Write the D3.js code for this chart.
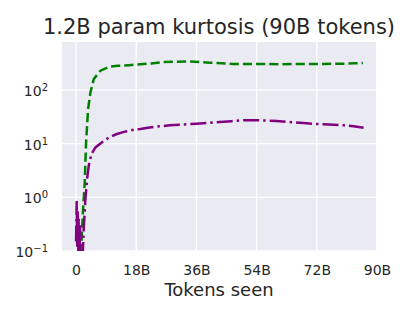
<!DOCTYPE html>
<html>
<head>
<meta charset="utf-8">
<script src="https://cdn.jsdelivr.net/npm/d3@7"></script>
<style>
  body { margin: 0; background: #ffffff; }
  svg text { font-family: "DejaVu Sans", sans-serif; fill: #262626; }
</style>
</head>
<body>
<div id="chart"></div>
<script>
// Chart values (x in billions of tokens)
var title = '1.2B param kurtosis (90B tokens)';
var xLabel = 'Tokens seen';
var xTicks = [0, 18, 36, 54, 72, 90];
var xTickLabels = ['0', '18B', '36B', '54B', '72B', '90B'];
var yTicks = [0.1, 1, 10, 100];
var yExponents = ['\u22121', '0', '1', '2'];

var greenX = [1.0, 1.5, 2.1, 2.6, 3.0, 3.6, 4.3, 5.3, 7.3, 9.8, 12.5, 15.8, 19.2, 22.5, 26, 29.5, 33.5, 37, 40, 43.5, 47, 50.5, 54, 57.5, 61, 64.5, 68, 71, 74, 77.5, 81, 83.5, 85.8];
var greenY = [0.05, 0.1, 0.6, 1.9, 10.5, 44, 90, 160, 229, 270, 282, 290, 300, 312, 330, 335, 340, 332, 322, 314, 306, 305, 306, 304, 302, 304, 306, 304, 306, 308, 310, 314, 318];

var purpleX = [0.0, 0.2, 0.35, 0.5, 0.65, 0.8, 1.0, 1.2, 1.5, 1.9, 2.3, 2.8, 3.3, 3.8, 4.6, 5.8, 7.8, 9.8, 11.8, 13.8, 16, 18.1, 19.2, 22, 25, 28.1, 32, 36.1, 39.5, 43, 46.5, 50, 54, 57, 60, 64, 68, 71, 74, 77, 80, 83, 86];
var purpleY = [0.15, 0.85, 0.12, 0.55, 0.09, 0.4, 0.08, 0.3, 0.05, 0.06, 0.26, 0.93, 2.2, 3.9, 6.4, 8.5, 10.6, 13, 14.8, 16.2, 17.5, 18.5, 18.7, 20, 21, 22, 22.8, 23.5, 24.3, 25.3, 26.2, 27.3, 27.3, 27, 26.4, 25.3, 24.2, 23.5, 22.9, 22.4, 22, 21, 19.8];

var width = 407, height = 317;
var plot = {left: 62, right: 376, top: 42, bottom: 251};

var svg = d3.select('#chart').append('svg')
  .attr('width', width)
  .attr('height', height);

svg.append('rect')
  .attr('width', width).attr('height', height)
  .attr('fill', '#ffffff');

// Scales
var x = d3.scaleLinear().domain([-4.2, 89.7]).range([plot.left, plot.right]);
var y = d3.scaleLog().domain([0.1, 783]).range([plot.bottom, plot.top]);

// Plot background
svg.append('rect')
  .attr('x', plot.left).attr('y', plot.top)
  .attr('width', plot.right - plot.left)
  .attr('height', plot.bottom - plot.top)
  .attr('fill', '#eaeaf2');

// Grid lines
svg.append('g').selectAll('line')
  .data(xTicks.filter(function(d) { return x(d) < plot.right; }))
  .enter().append('line')
  .attr('x1', function(d) { return x(d); })
  .attr('x2', function(d) { return x(d); })
  .attr('y1', plot.top).attr('y2', plot.bottom)
  .attr('stroke', '#ffffff').attr('stroke-width', 1.3);

svg.append('g').selectAll('line')
  .data(yTicks)
  .enter().append('line')
  .attr('x1', plot.left).attr('x2', plot.right)
  .attr('y1', function(d) { return y(d); })
  .attr('y2', function(d) { return y(d); })
  .attr('stroke', '#ffffff').attr('stroke-width', 1.3);

// Clip for the lines
svg.append('clipPath').attr('id', 'clip')
  .append('rect')
  .attr('x', plot.left).attr('y', plot.top)
  .attr('width', plot.right - plot.left)
  .attr('height', plot.bottom - plot.top);

var line = d3.line()
  .x(function(d) { return x(d[0]); })
  .y(function(d) { return y(d[1]); });

var series = [
  {xs: greenX, ys: greenY, color: '#008000', dash: '9.2,4'},
  {xs: purpleX, ys: purpleY, color: '#800080', dash: '16,4,2.5,4'}
];

svg.append('g').attr('clip-path', 'url(#clip)')
  .selectAll('path')
  .data(series)
  .enter().append('path')
  .attr('d', function(s) {
    return line(s.xs.map(function(v, i) { return [v, s.ys[i]]; }));
  })
  .attr('fill', 'none')
  .attr('stroke', function(s) { return s.color; })
  .attr('stroke-width', 2.5)
  .attr('stroke-dasharray', function(s) { return s.dash; });

// X axis
var xAxis = svg.append('g')
  .attr('transform', 'translate(0,' + plot.bottom + ')')
  .call(d3.axisBottom(x)
    .tickValues(xTicks)
    .tickSize(0)
    .tickPadding(14)
    .tickFormat(function(d, i) { return xTickLabels[i]; }));
xAxis.select('.domain').remove();
xAxis.selectAll('text')
  .style('font-size', '14px')
  .attr('fill', '#262626');

// Y axis with power-of-ten labels
var yAxis = svg.append('g')
  .attr('transform', 'translate(48,0)')
  .call(d3.axisLeft(y).tickValues(yTicks).tickSize(0).tickPadding(0));
yAxis.select('.domain').remove();
yAxis.selectAll('text')
  .attr('fill', '#262626')
  .style('font-size', '14px')
  .attr('dy', '0.4em')
  .text(null)
  .each(function(d, i) {
    var t = d3.select(this);
    t.append('tspan').text('10');
    t.append('tspan')
      .attr('dy', '-0.5em')
      .style('font-size', '10px')
      .text(yExponents[i]);
  });

// Title and x label
svg.append('text')
  .attr('x', (plot.left + plot.right) / 2)
  .attr('y', 34)
  .attr('text-anchor', 'middle')
  .style('font-size', '21px')
  .text(title);

svg.append('text')
  .attr('x', (plot.left + plot.right) / 2)
  .attr('y', 296)
  .attr('text-anchor', 'middle')
  .style('font-size', '18px')
  .text(xLabel);
</script>
</body>
</html>
